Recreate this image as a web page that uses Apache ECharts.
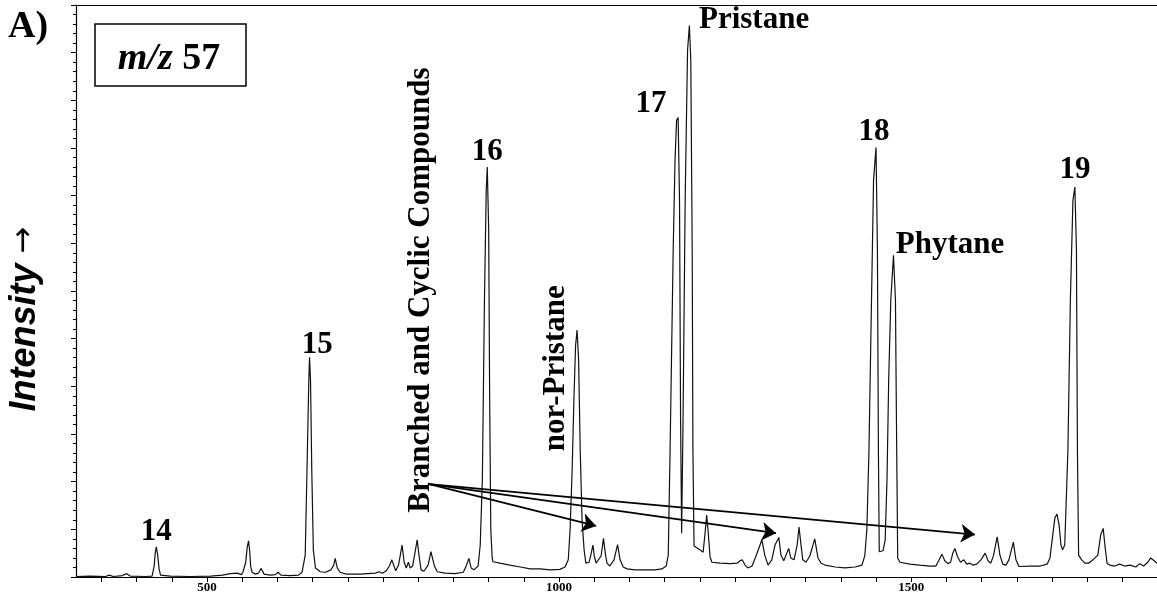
<!DOCTYPE html>
<html>
<head>
<meta charset="utf-8">
<script src="https://cdn.jsdelivr.net/npm/echarts@6/dist/echarts.min.js"></script>
<style>
html,body{margin:0;padding:0;background:#fff;}
#chart{width:1157px;height:597px;}
</style>
</head>
<body>
<div id="chart"></div>
<script>
// Chromatogram (m/z 57): scan number vs. relative intensity
const scanNumbers = [
314,334,356,361,367,380,386,391,413,422,425,426.5,428,430,432,434,448,476,505,522,533,543,549,551,555,557,559,560.5,562,564,
569,573,577,581,590,597,601,605,618,630,635,639.5,642,644.6,645.6,647,648.8,651,654,661,668,676,680,682,685,689,698,718,739,744.5,
749,754.5,759,762.5,766,768,772,777,780,783,786,788.5,792,796,798.5,801,804,808,814,818,823,827,838,852,864,868,872,875,879,885,
888,891,894,896.5,898,900,901.4,903,905,906,916,930,945,959,973,987,1001,1008.5,1013,1015.6,1018.5,1021,1023.4,1025.5,1027.7,1030,1032.6,1035.5,1038,1042.6,
1045,1048,1050,1052.5,1055,1059.6,1063,1066,1068,1072,1078,1083,1086.6,1091,1096.5,1108,1122,1136,1146,1152,1155,1157.6,1162,1164.6,1166.8,1169,1171,1172.5,1174,1176,
1179,1182.4,1185,1187,1189,1190,1191.6,1196,1200,1204.5,1207,1209.6,1212,1214.4,1217,1228.5,1243,1252.6,1257,1260,1264,1268,1274,1279.6,1288,1292,1296.7,1302,1306.6,1312,
1315,1319,1326,1329,1333.6,1338,1340.7,1343.5,1346,1350.6,1356,1360.5,1363,1367.6,1372,1377.6,1392,1406,1420,1430,1434,1437,1440,1443.6,1446.5,1450,1452,1453.4,1454.6,1457,
1460,1463,1465.6,1468,1471,1474.8,1477.6,1479,1480.8,1484,1498,1512,1526.6,1535,1539,1543.6,1547.6,1552,1556,1559,1562,1566,1570,1574.6,1579,1583,1587.6,1593,1599,1605,
1609,1613,1617,1622,1626,1630,1634.5,1638.7,1645,1648.7,1653,1668.5,1683,1693,1697,1701,1704,1707,1710,1712.6,1715,1718,1722.5,1726,1729.6,1732.4,1734.6,1736,1737.7,1742,
1746.6,1752,1758,1765,1769,1772.6,1775,1778,1782,1789,1796,1803,1810.5,1819,1824.6,1830,1836,1840,1845,1849
];
const intensities = [
0.1,0.2,0.1,0.4,0.1,0.3,0.7,0.2,0.1,0.2,2.3,5.0,6.3,4.6,1.7,0.4,0.2,0.1,0.2,0.4,0.7,0.8,0.5,1.0,3.1,6.1,7.6,5.7,2.3,1.0,
0.6,0.8,1.8,0.6,0.4,0.5,1.0,0.4,0.3,0.4,1.0,4.6,22.4,41.3,46.1,41.3,22.4,5.7,1.9,1.1,1.0,1.5,2.5,3.9,1.9,1.0,0.6,0.6,0.8,1.1,
0.8,1.3,2.3,3.6,2.1,1.3,2.5,6.7,3.1,1.9,3.1,1.9,2.3,5.7,7.8,4.6,1.5,1.2,2.5,5.3,2.3,1.1,0.8,0.7,1.0,2.3,3.9,1.9,1.5,2.3,
6.7,20.3,58.1,81.1,86.0,72.7,37.1,9.9,4.0,3.2,2.9,2.5,2.1,1.7,1.7,1.5,1.6,2.1,3.6,9.9,22.4,37.1,48.6,51.8,45.5,26.6,11.9,5.7,2.9,3.1,
4.6,6.7,4.4,2.9,2.5,4.4,8.1,4.6,2.9,2.3,3.6,6.8,3.6,2.1,1.7,1.5,1.5,1.5,1.7,2.3,4.6,26.6,68.6,87.4,95.8,96.4,79.0,32.9,9.2,32.9,
79.0,110.5,115.7,108.4,68.6,26.6,6.5,6.1,5.7,5.2,8.8,13.0,8.8,4.2,3.1,2.9,2.8,2.9,3.4,3.6,2.5,1.9,2.3,4.4,7.8,4.6,2.5,3.6,6.7,8.3,
4.6,3.4,6.0,4.0,3.6,6.7,10.5,6.7,3.6,3.1,4.4,6.7,8.0,4.0,2.9,2.5,2.1,1.9,2.1,2.5,4.4,9.9,26.6,58.1,83.2,90.1,68.6,26.6,5.3,5.0,
5.5,7.8,20.3,41.3,58.1,67.5,58.1,32.9,4.0,3.1,2.7,2.5,2.3,2.3,3.4,4.8,3.4,2.8,3.1,5.0,6.0,4.2,3.1,3.6,2.7,2.9,2.5,2.7,3.6,5.0,
3.4,2.9,4.6,8.4,4.6,2.7,2.5,3.6,7.3,3.6,2.2,2.3,2.3,2.7,4.0,8.8,12.4,13.2,10.9,6.7,5.7,6.7,26.6,58.1,79.0,81.8,68.6,26.6,4.6,3.6,
2.9,2.9,3.6,4.6,8.8,10.2,6.7,2.9,2.5,2.3,2.7,2.3,2.5,2.1,2.8,2.3,3.1,4.0,3.4,2.9
];

// x-axis tick marks and labelled ticks
const xTickValues = [350,400,450,500,550,600,650,700,750,800,850,900,950,1000,1050,1100,1150,1200,1250,1300,1350,1400,1450,1500,1550,1600,1650,1700,1750,1800];
const xLabelValues = [500,1000,1500];

// peak annotations: [text, scan, intensity]
const peakLabels = [
  ['14', 428, 9.4],
  ['15', 656.5, 48.6],
  ['16', 898, 89.1],
  ['17', 1130.6, 99.2],
  ['18', 1447, 93.3],
  ['19', 1732.4, 85.3],
  ['Pristane', 1276.8, 116.8],
  ['Phytane', 1555, 69.6]
];
const verticalLabels = [
  ['nor-Pristane', 996, 43.8],
  ['Branched and Cyclic Compounds', 804, 60.2]
];
// arrows from the "Branched and Cyclic Compounds" label
const arrowStart = [815.6, 19.5];
const arrowEnds = [[1052.5, 10.7], [1308, 9.2], [1590.5, 8.9]];

const serif = '"Liberation Serif", "DejaVu Serif", serif';
const sans = '"Liberation Sans", Arial, sans-serif';

const chart = echarts.init(document.getElementById('chart'), null, {renderer: 'canvas'});

const markPointData = peakLabels.map(p => ({
  name: p[0], coord: [p[1], p[2]],
  label: {rotate: 0}
})).concat(verticalLabels.map(p => ({
  name: p[0], coord: [p[1], p[2]],
  label: {rotate: 90}
})));

const option = {
  animation: false,
  backgroundColor: '#fff',
  grid: {left: 76, right: 0, top: 5, bottom: 20, containLabel: false},
  xAxis: [{
    type: 'value', min: 314, max: 1849,
    axisLine: {show: true, lineStyle: {color: '#000', width: 1.2}},
    axisTick: {show: true, customValues: xTickValues, length: 5, inside: false, lineStyle: {color: '#000', width: 1}},
    axisLabel: {show: true, customValues: xLabelValues, margin: 4, color: '#000',
      formatter: v => String(v),
      fontFamily: serif, fontWeight: 'bold', fontSize: 13},
    splitLine: {show: false}
  }, {
    type: 'value', min: 314, max: 1849, position: 'top',
    axisLine: {show: true, onZero: false, lineStyle: {color: '#000', width: 1.2}},
    axisTick: {show: false}, axisLabel: {show: false}, splitLine: {show: false}
  }],
  yAxis: {
    type: 'value', min: 0, max: 120, interval: 10,
    axisLine: {show: true, lineStyle: {color: '#000', width: 1.2}},
    axisTick: {show: true, length: 5, lineStyle: {color: '#000', width: 1}},
    minorTick: {show: true, splitNumber: 5, length: 3, lineStyle: {color: '#000', width: 1}},
    axisLabel: {show: false},
    splitLine: {show: false}
  },
  series: [{
    type: 'line',
    data: scanNumbers.map((s, i) => [s, intensities[i]]),
    showSymbol: false,
    symbol: 'none',
    lineStyle: {color: '#111', width: 1.2},
    silent: true,
    markPoint: {
      symbol: 'rect', symbolSize: 1,
      itemStyle: {color: 'rgba(0,0,0,0)'},
      label: {show: true, position: 'inside', formatter: '{b}', color: '#000',
        fontFamily: serif, fontWeight: 'bold', fontSize: 31, align: 'center', verticalAlign: 'middle'},
      data: markPointData
    },
    markLine: {
      silent: true,
      symbol: ['none', 'arrow'],
      symbolSize: 14,
      lineStyle: {color: '#000', width: 1.8, type: 'solid'},
      label: {show: false},
      data: arrowEnds.map(e => [{coord: arrowStart}, {coord: e}])
    }
  }],
  graphic: [
    {type: 'text', left: 8, top: 8, style: {text: 'A)', font: 'bold 38px ' + serif, fill: '#000'}},
    {type: 'rect', shape: {x: 95, y: 24, width: 151, height: 62}, style: {fill: '#fff', stroke: '#000', lineWidth: 1.5}, z: 10},
    {type: 'text', x: 169, y: 59, z: 11, style: {
      text: '{i|m/z }{b|57}', align: 'center', verticalAlign: 'middle',
      rich: {
        i: {font: 'italic bold 38px ' + serif, fill: '#000'},
        b: {font: 'bold 38px ' + serif, fill: '#000'}
      }
    }},
    {type: 'text', x: 25, y: 319, rotation: Math.PI / 2, style: {
      text: '{a|Intensity }{b|→}', align: 'center', verticalAlign: 'middle',
      rich: {
        a: {font: 'italic bold 36px ' + sans, fill: '#000'},
        b: {font: '32px "DejaVu Sans", sans-serif', fill: '#000'}
      }
    }}
  ]
};
chart.setOption(option);
</script>
</body>
</html>
